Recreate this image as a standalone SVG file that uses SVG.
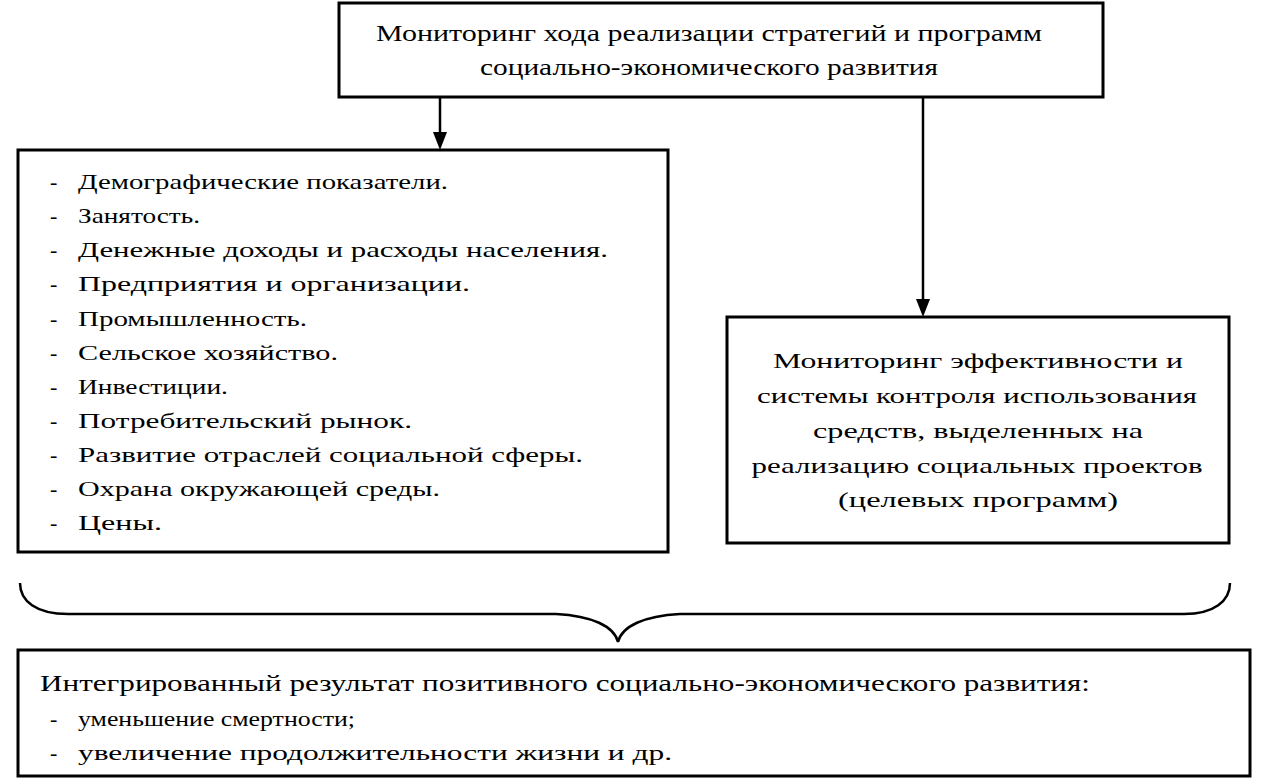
<svg xmlns="http://www.w3.org/2000/svg" width="1263" height="784" viewBox="0 0 1263 784">
<style>
.box{fill:#fff;stroke:#000;stroke-width:3}
.t{font-family:"Liberation Serif","DejaVu Serif",serif;font-size:22px;fill:#000}
.tc{font-family:"Liberation Serif","DejaVu Serif",serif;font-size:24px;fill:#000}
.c{text-anchor:middle}
.ln{stroke:#000;stroke-width:2.5;fill:none}
</style>
<rect width="1263" height="784" fill="#fff"/>
<g id="connectors">
<line class="ln" x1="440" y1="97" x2="440" y2="133"/>
<path d="M433,132 L447,132 L440,150 Z" fill="#000"/>
<line class="ln" x1="923" y1="97" x2="923" y2="300"/>
<path d="M916,299 L930,299 L923,317 Z" fill="#000"/>
<path class="ln" d="M20,583 C20,601 36,614 68,614 L556,614 C592,616 614,626 618,642 C622,626 644,616 680,614 L1184,614 C1214,614 1230,601 1230,583"/>
</g>
<g id="top">
<rect class="box" x="339" y="3" width="764" height="94"/>
<text class="tc c" x="709" y="41" textLength="666" lengthAdjust="spacingAndGlyphs">Мониторинг хода реализации стратегий и программ</text>
<text class="tc c" x="709" y="75" textLength="458" lengthAdjust="spacingAndGlyphs">социально-экономического развития</text>
</g>
<g id="left">
<rect class="box" x="18" y="150" width="650" height="402"/>
<g class="t">
<text x="50" y="189">-</text><text x="78" y="189" textLength="370" lengthAdjust="spacingAndGlyphs">Демографические показатели.</text>
<text x="50" y="223">-</text><text x="78" y="223" textLength="122" lengthAdjust="spacingAndGlyphs">Занятость.</text>
<text x="50" y="257">-</text><text x="78" y="257" textLength="530" lengthAdjust="spacingAndGlyphs">Денежные доходы и расходы населения.</text>
<text x="50" y="291">-</text><text x="78" y="291" textLength="392" lengthAdjust="spacingAndGlyphs">Предприятия и организации.</text>
<text x="50" y="326">-</text><text x="78" y="326" textLength="229" lengthAdjust="spacingAndGlyphs">Промышленность.</text>
<text x="50" y="360">-</text><text x="78" y="360" textLength="260" lengthAdjust="spacingAndGlyphs">Сельское хозяйство.</text>
<text x="50" y="394">-</text><text x="78" y="394" textLength="150" lengthAdjust="spacingAndGlyphs">Инвестиции.</text>
<text x="50" y="428">-</text><text x="78" y="428" textLength="334" lengthAdjust="spacingAndGlyphs">Потребительский рынок.</text>
<text x="50" y="462">-</text><text x="78" y="462" textLength="505" lengthAdjust="spacingAndGlyphs">Развитие отраслей социальной сферы.</text>
<text x="50" y="496">-</text><text x="78" y="496" textLength="362" lengthAdjust="spacingAndGlyphs">Охрана окружающей среды.</text>
<text x="50" y="530">-</text><text x="78" y="530" textLength="84" lengthAdjust="spacingAndGlyphs">Цены.</text>
</g>
</g>
<g id="right">
<rect class="box" x="727" y="317" width="502" height="226"/>
<g class="t c">
<text x="978" y="368" textLength="410" lengthAdjust="spacingAndGlyphs">Мониторинг эффективности и</text>
<text x="977" y="403" textLength="440" lengthAdjust="spacingAndGlyphs">системы контроля использования</text>
<text x="978" y="438" textLength="330" lengthAdjust="spacingAndGlyphs">средств, выделенных на</text>
<text x="977" y="473" textLength="451" lengthAdjust="spacingAndGlyphs">реализацию социальных проектов</text>
<text x="978" y="507" textLength="280" lengthAdjust="spacingAndGlyphs">(целевых программ)</text>
</g>
</g>
<g id="bottom">
<rect class="box" x="18" y="650" width="1232" height="126"/>
<text class="tc" x="40" y="691" textLength="1050" lengthAdjust="spacingAndGlyphs">Интегрированный результат позитивного социально-экономического развития:</text>
<g class="t">
<text x="50" y="726">-</text><text x="78" y="726" textLength="277" lengthAdjust="spacingAndGlyphs">уменьшение смертности;</text>
<text x="50" y="760">-</text><text x="78" y="760" textLength="594" lengthAdjust="spacingAndGlyphs">увеличение продолжительности жизни и др.</text>
</g>
</g>
</svg>
